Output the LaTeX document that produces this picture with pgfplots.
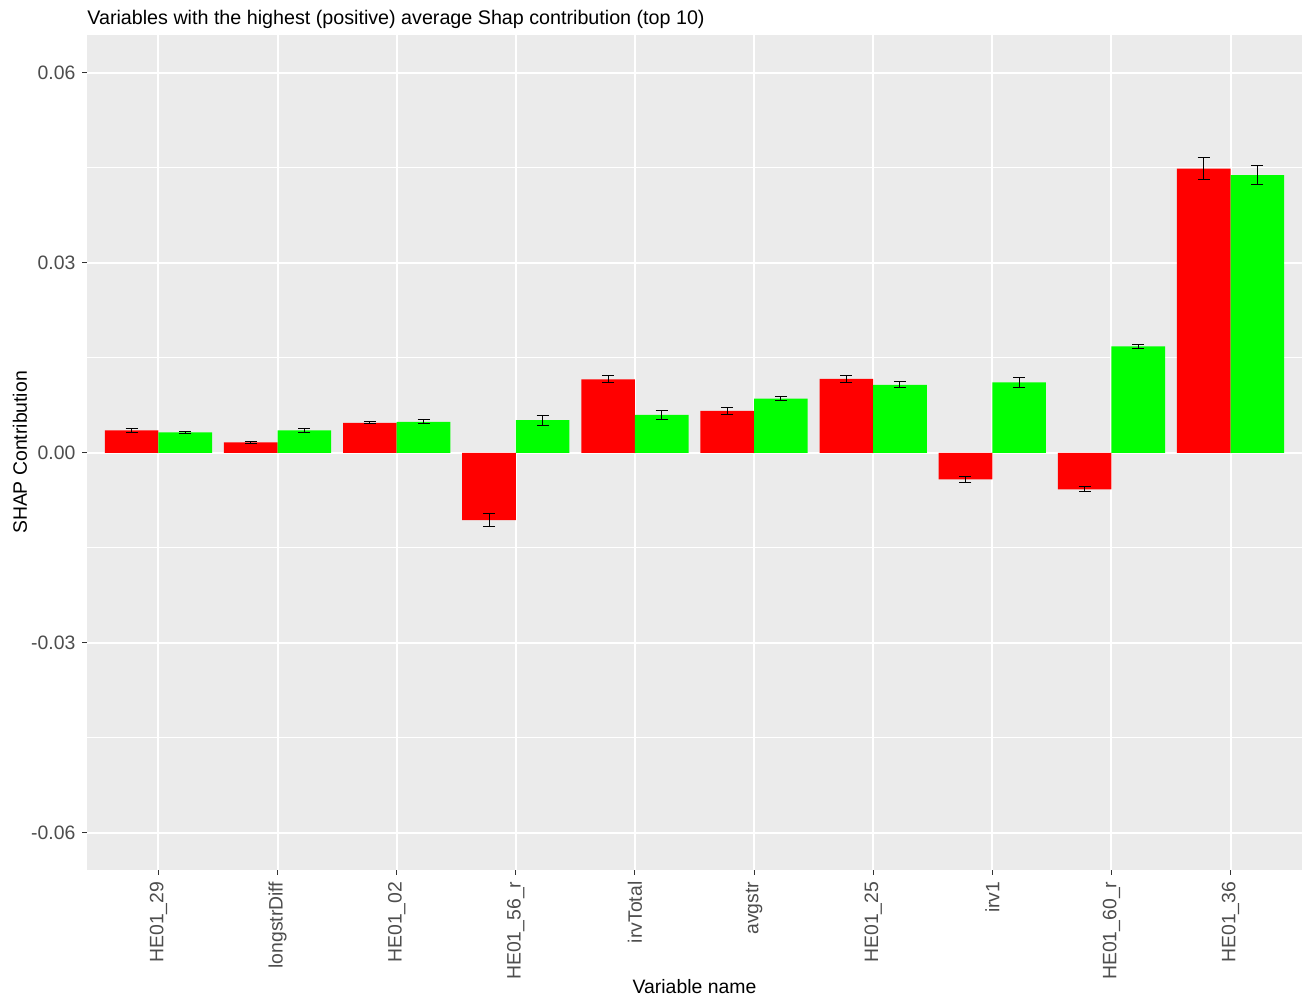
\documentclass[border=0pt]{standalone}
\usepackage{fontspec}
\setmainfont{Liberation Sans}
\usepackage{pgfplots}
\usepackage{pgfplotstable}
\pgfplotsset{compat=1.18}
\definecolor{panelgrey}{HTML}{EBEBEB}
\definecolor{ticklab}{HTML}{4D4D4D}
\definecolor{tickcol}{HTML}{333333}
\definecolor{barred}{HTML}{FF0000}
\definecolor{bargreen}{HTML}{00FF00}

% x = category position minus/plus 0.225
\pgfplotstableread{
x y err
0.775 0.00354 0.00027
1.775 0.00164 0.00012
2.775 0.00474 0.00015
3.775 -0.01064 0.00098
4.775 0.01162 0.00058
5.775 0.00663 0.00058
6.775 0.01168 0.00058
7.775 -0.00420 0.00045
8.775 -0.00578 0.00040
9.775 0.04490 0.00170
}\redtable
\pgfplotstableread{
x y err
1.225 0.00322 0.00020
2.225 0.00354 0.00029
3.225 0.00490 0.00029
4.225 0.00515 0.00076
5.225 0.00600 0.00068
6.225 0.00857 0.00030
7.225 0.01074 0.00045
8.225 0.01111 0.00074
9.225 0.01680 0.00034
10.225 0.04385 0.00150
}\greentable

\newcommand{\fs}{\fontsize{9.7}{11.6}\selectfont}
\newcommand{\fst}{\fontsize{9.85}{11.8}\selectfont}

\begin{document}
\begin{tikzpicture}
\useasboundingbox (-43.5pt,-64pt) rectangle (608pt,435pt);
\begin{axis}[
  scale only axis,
  width=607.5pt, height=417.5pt,
  xmin=0.4, xmax=10.6,
  ymin=-0.0659, ymax=0.0660,
  scaled y ticks=false,
  axis background/.style={fill=panelgrey},
  axis line style={draw=none},
  tick pos=left,
  tick align=outside,
  major tick length=2.3pt,
  minor tick length=0pt,
  tick style={color=tickcol, line width=0.5pt},
  xtick={1,2,3,4,5,6,7,8,9,10},
  xticklabels={HE01\_29,longstrDiff,HE01\_02,HE01\_56\_r,irvTotal,avgstr,HE01\_25,irv1,HE01\_60\_r,HE01\_36},
  ytick={-0.06,-0.03,0,0.03,0.06},
  yticklabels={-0.06,-0.03,0.00,0.03,0.06},
  minor ytick={-0.045,-0.015,0.015,0.045},
  grid=both,
  major grid style={white, line width=1pt},
  minor grid style={white, line width=0.5pt},
  xticklabel style={rotate=90, anchor=east, font=\fs, text=ticklab},
  yticklabel style={anchor=east, font=\fs, text=ticklab},
  every axis title/.style={at={(axis description cs:0,1)}, anchor=base west, inner xsep=0pt, yshift=5pt, font=\fst},
  title={Variables with the highest (positive) average Shap contribution (top 10)},
  every axis x label/.style={at={(axis description cs:0.5,0)}, yshift=-61.5pt, anchor=base, font=\fs},
  every axis y label/.style={at={(axis description cs:0,0.5)}, xshift=-30pt, rotate=90, anchor=base, font=\fs},
  xlabel={Variable name},
  ylabel={SHAP Contribution},
  ybar, bar width=0.45,
]
\addplot+[bar shift=0pt, fill=barred, draw=none,
  error bars/.cd, y dir=both, y explicit,
  error bar style={black, line width=0.5pt},
  error mark options={black, rotate=90, mark size=3pt, line width=0.5pt}]
  table[x=x, y=y, y error=err]{\redtable};
\addplot+[bar shift=0pt, fill=bargreen, draw=none,
  error bars/.cd, y dir=both, y explicit,
  error bar style={black, line width=0.5pt},
  error mark options={black, rotate=90, mark size=3pt, line width=0.5pt}]
  table[x=x, y=y, y error=err]{\greentable};
\end{axis}
\end{tikzpicture}
\end{document}
